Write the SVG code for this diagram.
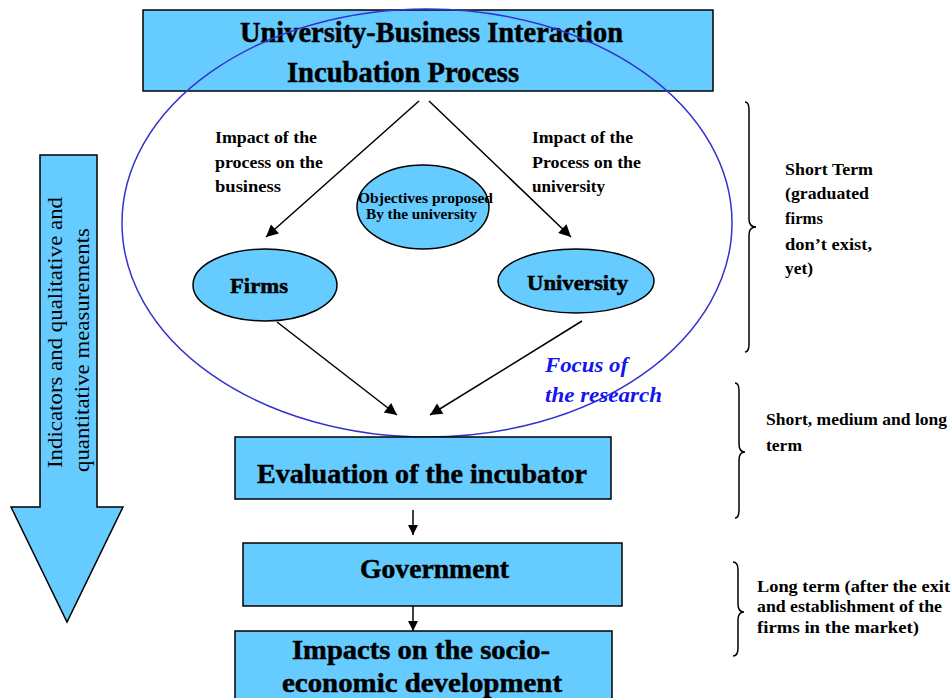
<svg xmlns="http://www.w3.org/2000/svg" width="952" height="698" viewBox="0 0 952 698">
<defs>
<style>
.box{fill:#66ccff;stroke:#000;stroke-width:1.5}
.ell{fill:#66ccff;stroke:#000;stroke-width:1.5}
.t{font-family:'Liberation Serif','DejaVu Serif',Times,serif;font-weight:bold;fill:#000}
.h{stroke:#000;stroke-width:0.5}
.r{font-family:'Liberation Serif','DejaVu Serif',Times,serif;fill:#000}
.f{font-family:'Liberation Serif','DejaVu Serif',Times,serif;font-weight:bold;font-style:italic;fill:#1515ee}
.con{stroke:#000;stroke-width:1.5;fill:none}
.brace{stroke:#000;stroke-width:1.5;fill:none}
</style>
<marker id="ah" viewBox="0 0 10 10" refX="10" refY="5" markerWidth="10" markerHeight="10" markerUnits="userSpaceOnUse" orient="auto">
<path d="M0,0 L10,5 L0,10 z" fill="#000"/>
</marker>
<marker id="ahb" viewBox="0 0 10 10" refX="10" refY="5" markerWidth="15" markerHeight="12" markerUnits="userSpaceOnUse" orient="auto">
<path d="M0,0 L10,5 L0,10 z" fill="#000"/>
</marker>
</defs>
<rect width="952" height="698" fill="#fff"/>

<g id="indicators-arrow">
<polygon points="40,155 97,155 97,507 123,507 67,622 11,507 40,507" fill="#66ccff" stroke="#000" stroke-width="1.5"/>
<text class="r" font-size="21" transform="translate(62,468) rotate(-90)" textLength="271" lengthAdjust="spacingAndGlyphs">Indicators and qualitative and</text>
<text class="r" font-size="21" transform="translate(89,472) rotate(-90)" textLength="244" lengthAdjust="spacingAndGlyphs">quantitative measurements</text>
</g>

<g id="top-box">
<rect class="box" x="143" y="10" width="570" height="81"/>
<text class="t h" x="240" y="42" font-size="29" textLength="383" lengthAdjust="spacingAndGlyphs">University-Business Interaction</text>
<text class="t h" x="287" y="82" font-size="29" textLength="232" lengthAdjust="spacingAndGlyphs">Incubation Process</text>
</g>

<g id="focus-ellipse">
<ellipse cx="427" cy="223" rx="305" ry="214" fill="none" stroke="#3333cc" stroke-width="1.5"/>
<text class="f" x="545" y="372" font-size="21" textLength="83" lengthAdjust="spacingAndGlyphs">Focus of</text>
<text class="f" x="545" y="402" font-size="21" textLength="117" lengthAdjust="spacingAndGlyphs">the research</text>
</g>

<g id="objectives">
<ellipse class="ell" cx="423" cy="207" rx="66" ry="42"/>
<text class="t" x="358" y="203" font-size="14" textLength="135" lengthAdjust="spacingAndGlyphs">Objectives proposed</text>
<text class="t" x="366" y="219" font-size="14" textLength="111" lengthAdjust="spacingAndGlyphs">By the university</text>
</g>

<g id="firms">
<ellipse class="ell" cx="265" cy="285" rx="72" ry="36"/>
<text class="t h" x="230" y="293" font-size="21" textLength="58" lengthAdjust="spacingAndGlyphs">Firms</text>
</g>

<g id="university">
<ellipse class="ell" cx="576" cy="281" rx="78" ry="32"/>
<text class="t h" x="527" y="290" font-size="22" textLength="101" lengthAdjust="spacingAndGlyphs">University</text>
</g>

<g id="label-business">
<text class="t" x="215" y="143" font-size="16" textLength="102" lengthAdjust="spacingAndGlyphs">Impact of the</text>
<text class="t" x="215" y="168" font-size="16" textLength="108" lengthAdjust="spacingAndGlyphs">process on the</text>
<text class="t" x="215" y="192" font-size="16" textLength="66" lengthAdjust="spacingAndGlyphs">business</text>
</g>

<g id="label-university">
<text class="t" x="532" y="143" font-size="16" textLength="101" lengthAdjust="spacingAndGlyphs">Impact of the</text>
<text class="t" x="532" y="168" font-size="16" textLength="109" lengthAdjust="spacingAndGlyphs">Process on the</text>
<text class="t" x="532" y="192" font-size="16" textLength="73" lengthAdjust="spacingAndGlyphs">university</text>
</g>

<g id="evaluation">
<rect class="box" x="235" y="437" width="376" height="62"/>
<text class="t h" x="257" y="483" font-size="28" textLength="330" lengthAdjust="spacingAndGlyphs">Evaluation of the incubator</text>
</g>

<g id="government">
<rect class="box" x="243" y="543" width="379" height="63"/>
<text class="t h" x="360" y="578" font-size="28" textLength="149" lengthAdjust="spacingAndGlyphs">Government</text>
</g>

<g id="impacts">
<rect class="box" x="235" y="631" width="377" height="80"/>
<text class="t h" x="292" y="659" font-size="28" textLength="258" lengthAdjust="spacingAndGlyphs">Impacts on the socio-</text>
<text class="t h" x="282" y="692" font-size="28" textLength="280" lengthAdjust="spacingAndGlyphs">economic development</text>
</g>

<g id="connectors">
<line class="con" x1="419" y1="101" x2="266" y2="237" marker-end="url(#ahb)"/>
<line class="con" x1="429" y1="101" x2="571" y2="237" marker-end="url(#ahb)"/>
<line class="con" x1="277" y1="322" x2="397" y2="415" marker-end="url(#ahb)"/>
<line class="con" x1="582" y1="321" x2="430" y2="415" marker-end="url(#ahb)"/>
<line class="con" x1="413" y1="510" x2="413" y2="535" marker-end="url(#ah)"/>
<line class="con" x1="413" y1="606" x2="413" y2="631" marker-end="url(#ah)"/>
</g>

<g id="brace-short">
<path class="brace" d="M745,102 Q749,102 749,110 L749,219 Q749,227 756,227 Q749,227 749,235 L749,344 Q749,352 745,352"/>
<text class="t" x="785" y="175" font-size="16" textLength="88" lengthAdjust="spacingAndGlyphs">Short Term</text>
<text class="t" x="785" y="199" font-size="16" textLength="84" lengthAdjust="spacingAndGlyphs">(graduated</text>
<text class="t" x="785" y="224" font-size="16" textLength="38" lengthAdjust="spacingAndGlyphs">firms</text>
<text class="t" x="785" y="250" font-size="16" textLength="87" lengthAdjust="spacingAndGlyphs">don’t exist,</text>
<text class="t" x="785" y="274" font-size="16" textLength="28" lengthAdjust="spacingAndGlyphs">yet)</text>
</g>

<g id="brace-medium">
<path class="brace" d="M735,383 Q739,383 739,391 L739,444 Q739,452 745,452 Q739,452 739,460 L739,510 Q739,518 735,518"/>
<text class="t" x="766" y="425" font-size="16" textLength="181" lengthAdjust="spacingAndGlyphs">Short, medium and long</text>
<text class="t" x="766" y="451" font-size="16" textLength="36" lengthAdjust="spacingAndGlyphs">term</text>
</g>

<g id="brace-long">
<path class="brace" d="M733,562 Q738,562 738,570 L738,604 Q738,612 744,612 Q738,612 738,620 L738,648 Q738,656 733,656"/>
<text class="t" x="757" y="592" font-size="16" textLength="193" lengthAdjust="spacingAndGlyphs">Long term (after  the exit</text>
<text class="t" x="757" y="612" font-size="16" textLength="185" lengthAdjust="spacingAndGlyphs">and establishment of the</text>
<text class="t" x="757" y="633" font-size="16" textLength="162" lengthAdjust="spacingAndGlyphs">firms in the market)</text>
</g>
</svg>
